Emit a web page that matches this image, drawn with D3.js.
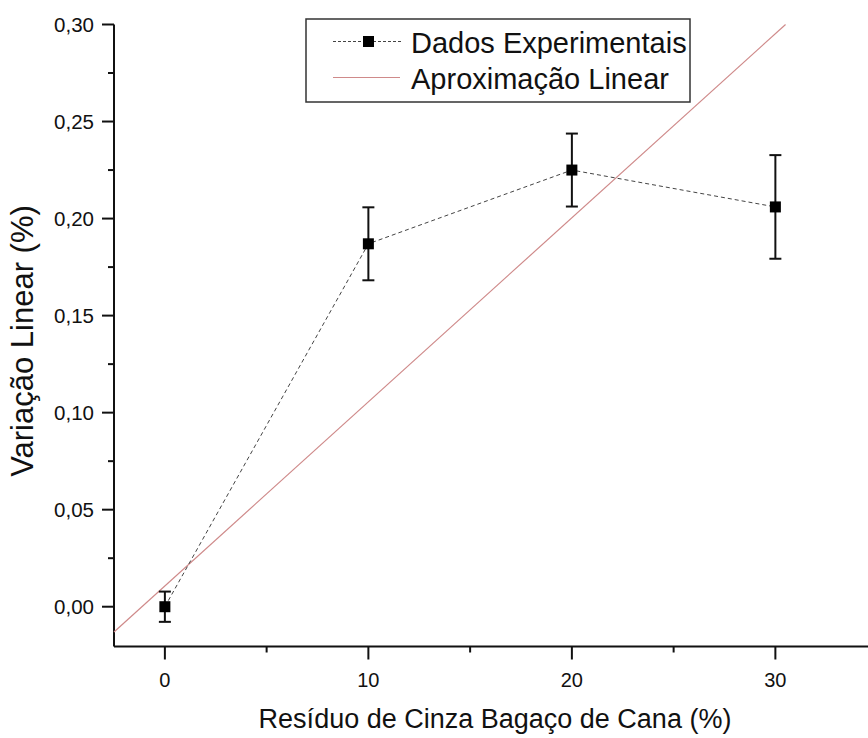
<!DOCTYPE html>
<html>
<head>
<meta charset="utf-8">
<script src="https://cdn.jsdelivr.net/npm/d3@7"></script>
<style>
  body { margin: 0; background: #fff; }
  svg { display: block; font-family: "Liberation Sans", Arial, sans-serif; }
</style>
</head>
<body>
<div id="chart"></div>
<script>
// data
var residuo = [0, 10, 20, 30];
var variacao = [0.000, 0.187, 0.225, 0.206];
var erro = [0.0078, 0.0188, 0.0188, 0.0267];
// red "aproximacao linear" line, end points as drawn
var fitX = [-2.5, 30.5];
var fitY = [-0.013, 0.30];
var xTicks = [0, 10, 20, 30];
var yTicks = [0.00, 0.05, 0.10, 0.15, 0.20, 0.25, 0.30];
var legendLabels = ["Dados Experimentais", "Aproximação Linear"];

var W = 868, H = 738;
var svg = d3.select("#chart").append("svg")
    .attr("width", W)
    .attr("height", H);

var x = d3.scaleLinear().domain([-2.5, 35]).range([114, 114 + 37.5 * 20.35]);
var y = d3.scaleLinear().domain([-0.0205, 0.30]).range([646.5, 24.5]);

var pt = d3.formatLocale({decimal: ",", thousands: ".", grouping: [3], currency: ["", ""]});
var fmt = pt.format(".2f");

// X axis (major + minor ticks)
var gx = svg.append("g")
    .attr("transform", "translate(0," + y.range()[0] + ")");
gx.append("line")
    .attr("x1", x.range()[0]).attr("x2", W)
    .attr("stroke", "#111").attr("stroke-width", 2);
gx.selectAll(".minor")
  .data([5, 15, 25])
  .enter().append("line")
    .attr("x1", function(d) { return x(d); })
    .attr("x2", function(d) { return x(d); })
    .attr("y1", 0).attr("y2", 6)
    .attr("stroke", "#111").attr("stroke-width", 2);
gx.selectAll(".major")
  .data(xTicks)
  .enter().append("line")
    .attr("x1", function(d) { return x(d); })
    .attr("x2", function(d) { return x(d); })
    .attr("y1", 0).attr("y2", 13)
    .attr("stroke", "#111").attr("stroke-width", 2);
gx.selectAll(".lbl")
  .data(xTicks)
  .enter().append("text")
    .attr("x", function(d) { return x(d); })
    .attr("y", 40)
    .attr("text-anchor", "middle")
    .style("font-size", "20px")
    .attr("fill", "#111")
    .text(function(d) { return d; });

// Y axis
var gy = svg.append("g")
    .attr("transform", "translate(" + x.range()[0] + ",0)");
gy.append("line")
    .attr("y1", y.range()[0]).attr("y2", y.range()[1])
    .attr("stroke", "#111").attr("stroke-width", 2);
gy.selectAll(".minor")
  .data([0.025, 0.075, 0.125, 0.175, 0.225, 0.275])
  .enter().append("line")
    .attr("y1", function(d) { return y(d); })
    .attr("y2", function(d) { return y(d); })
    .attr("x1", 0).attr("x2", -6)
    .attr("stroke", "#111").attr("stroke-width", 2);
gy.selectAll(".major")
  .data(yTicks)
  .enter().append("line")
    .attr("y1", function(d) { return y(d); })
    .attr("y2", function(d) { return y(d); })
    .attr("x1", 0).attr("x2", -12)
    .attr("stroke", "#111").attr("stroke-width", 2);
gy.selectAll(".lbl")
  .data(yTicks)
  .enter().append("text")
    .attr("x", -20)
    .attr("y", function(d) { return y(d); })
    .attr("dy", "0.36em")
    .attr("text-anchor", "end")
    .style("font-size", "20.5px")
    .attr("fill", "#111")
    .text(function(d) { return fmt(d); });

// axis titles
svg.append("text")
    .attr("x", 495)
    .attr("y", 728)
    .attr("text-anchor", "middle")
    .style("font-size", "27px")
    .attr("fill", "#111")
    .text("Resíduo de Cinza Bagaço de Cana (%)");
svg.append("text")
    .attr("transform", "translate(33,341) rotate(-90)")
    .attr("text-anchor", "middle")
    .style("font-size", "31px")
    .attr("fill", "#111")
    .text("Variação Linear (%)");

// linear approximation
svg.append("line")
    .attr("x1", x(fitX[0])).attr("y1", y(fitY[0]))
    .attr("x2", x(fitX[1])).attr("y2", y(fitY[1]))
    .attr("stroke", "#cf8a8a").attr("stroke-width", 1.2);

// dashed connecting line
var pts = residuo.map(function(d, i) { return [d, variacao[i]]; });
svg.append("path")
    .datum(pts)
    .attr("d", d3.line()
        .x(function(d) { return x(d[0]); })
        .y(function(d) { return y(d[1]); }))
    .attr("fill", "none")
    .attr("stroke", "#444")
    .attr("stroke-width", 1)
    .attr("stroke-dasharray", "4,3");

// error bars
var eb = svg.append("g").selectAll("g")
  .data(pts)
  .enter().append("g");
eb.append("line")
    .attr("x1", function(d) { return x(d[0]); })
    .attr("x2", function(d) { return x(d[0]); })
    .attr("y1", function(d, i) { return y(d[1] - erro[i]); })
    .attr("y2", function(d, i) { return y(d[1] + erro[i]); })
    .attr("stroke", "#111").attr("stroke-width", 2);
[-1, 1].forEach(function(s) {
  eb.append("line")
      .attr("x1", function(d) { return x(d[0]) - 6; })
      .attr("x2", function(d) { return x(d[0]) + 6; })
      .attr("y1", function(d, i) { return y(d[1] + s * erro[i]); })
      .attr("y2", function(d, i) { return y(d[1] + s * erro[i]); })
      .attr("stroke", "#111").attr("stroke-width", 2);
});
eb.append("rect")
    .attr("x", function(d) { return x(d[0]) - 5.5; })
    .attr("y", function(d) { return y(d[1]) - 5.5; })
    .attr("width", 11).attr("height", 11)
    .attr("fill", "#000");

// legend
var lg = svg.append("g");
lg.append("rect")
    .attr("x", 306).attr("y", 19)
    .attr("width", 384).attr("height", 83)
    .attr("fill", "#fff")
    .attr("stroke", "#333").attr("stroke-width", 1.5);
lg.append("line")
    .attr("x1", 333).attr("x2", 403).attr("y1", 41.5).attr("y2", 41.5)
    .attr("stroke", "#444").attr("stroke-width", 1).attr("stroke-dasharray", "3,2");
lg.append("rect")
    .attr("x", 363).attr("y", 36).attr("width", 11).attr("height", 11)
    .attr("fill", "#000");
lg.append("line")
    .attr("x1", 333).attr("x2", 400).attr("y1", 77.5).attr("y2", 77.5)
    .attr("stroke", "#cf8a8a").attr("stroke-width", 1.2);
lg.selectAll("text")
  .data(legendLabels)
  .enter().append("text")
    .attr("x", 411)
    .attr("y", function(d, i) { return 53 + i * 36; })
    .style("font-size", "29px")
    .attr("fill", "#111")
    .text(function(d) { return d; });
</script>
</body>
</html>
